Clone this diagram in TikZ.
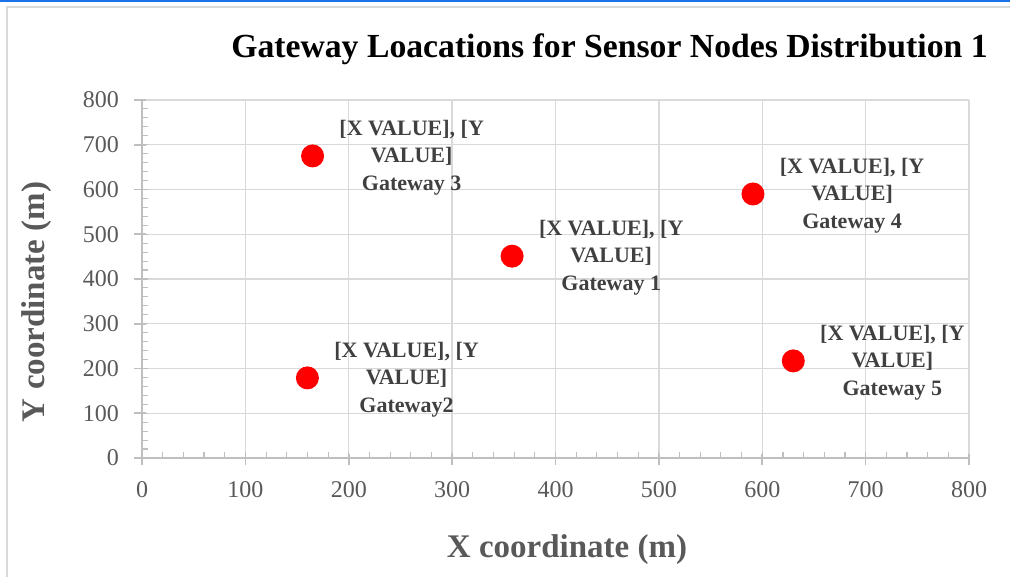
\documentclass[tikz,border=0pt]{standalone}
\usepackage{fontspec}
\setmainfont{Liberation Serif}
\usetikzlibrary{positioning}
\definecolor{gridgray}{HTML}{D9D9D9}
\definecolor{axisgray}{HTML}{BFBFBF}
\definecolor{textgray}{HTML}{595959}
\definecolor{labelgray}{HTML}{404040}
\definecolor{topblue}{HTML}{1A73E8}

\begin{document}
\begin{tikzpicture}[x=1pt, y=1pt,
        gridline/.style={draw=gridgray, line width=1.3pt},
        axisline/.style={draw=axisgray, line width=1.6pt},
        minortick/.style={draw=axisgray, line width=1.1pt},
        ticklabel/.style={text=textgray, font=\fontsize{24}{28}\selectfont, inner sep=0pt},
        gwpoint/.style={circle, fill=red, minimum size=23pt, inner sep=0pt},
        gwlabel/.style={text=labelgray, font=\bfseries\fontsize{22}{27.5}\selectfont, align=center, inner sep=0pt},
        axistitle/.style={text=textgray, font=\bfseries\fontsize{33}{40}\selectfont, inner sep=0pt},
        charttitle/.style={font=\bfseries\fontsize{33.7}{40}\selectfont, inner sep=0pt}
    ]
        \useasboundingbox (0,0) rectangle (1010,577);
        \draw[topblue, line width=2pt] (0,576) -- (1010,576);
        \draw[gridgray, line width=1.2pt] (7,0) |- (1010,570);

        \node[charttitle] (title) at (609.5,528) {Gateway Loacations for Sensor Nodes Distribution 1};

        \begin{scope}[shift={(142,119)}, x=1.0338pt, y=0.4475pt]
            \foreach \v in {100,200,...,800} {
                \draw[gridline] (\v,0) -- (\v,800);
                \draw[gridline] (0,\v) -- (800,\v);
            }
            \foreach \v in {20,40,...,780} {
                \draw[minortick] (\v,0) -- ++(0,5.5pt);
                \draw[minortick] (0,\v) -- ++(5.5pt,0);
            }
            \draw[axisline] (0,0) -- (800,0);
            \draw[axisline] (0,0) -- (0,800);
            \foreach \v in {0,100,...,800} {
                \draw[axisline] (\v,4pt) -- (\v,-7pt);
                \draw[axisline] (4pt,\v) -- (-8pt,\v);
                \node[ticklabel] (xl\v) at (\v,0) [yshift=-32pt] {\v};
                \node[ticklabel, anchor=east] (yl\v) at (0,\v) [xshift=-23pt] {\v};
            }

            \node[gwpoint] (g1) at (358,451) {};
            \node[gwpoint] (g2) at (160,179) {};
            \node[gwpoint] (g3) at (165,675) {};
            \node[gwpoint] (g4) at (591,590) {};
            \node[gwpoint] (g5) at (630,217) {};

            \node[gwlabel, right=15pt of g1, yshift=-1.5pt] (l1) {[X VALUE], [Y\\VALUE]\\Gateway 1};
            \node[gwlabel, right=15pt of g2, yshift=-1.5pt] (l2) {[X VALUE], [Y\\VALUE]\\Gateway2};
            \node[gwlabel, right=15pt of g3, yshift=-1.5pt] (l3) {[X VALUE], [Y\\VALUE]\\Gateway 3};
            \node[gwlabel, right=15pt of g4, yshift=-1.5pt] (l4) {[X VALUE], [Y\\VALUE]\\Gateway 4};
            \node[gwlabel, right=15pt of g5, yshift=-1.5pt] (l5) {[X VALUE], [Y\\VALUE]\\Gateway 5};
        \end{scope}

        \node[axistitle] (xtitle) at (567,27) {X coordinate (m)};
        \node[axistitle, rotate=90] (ytitle) at (37,275) {Y coordinate (m)};
    \end{tikzpicture}
\end{document}
